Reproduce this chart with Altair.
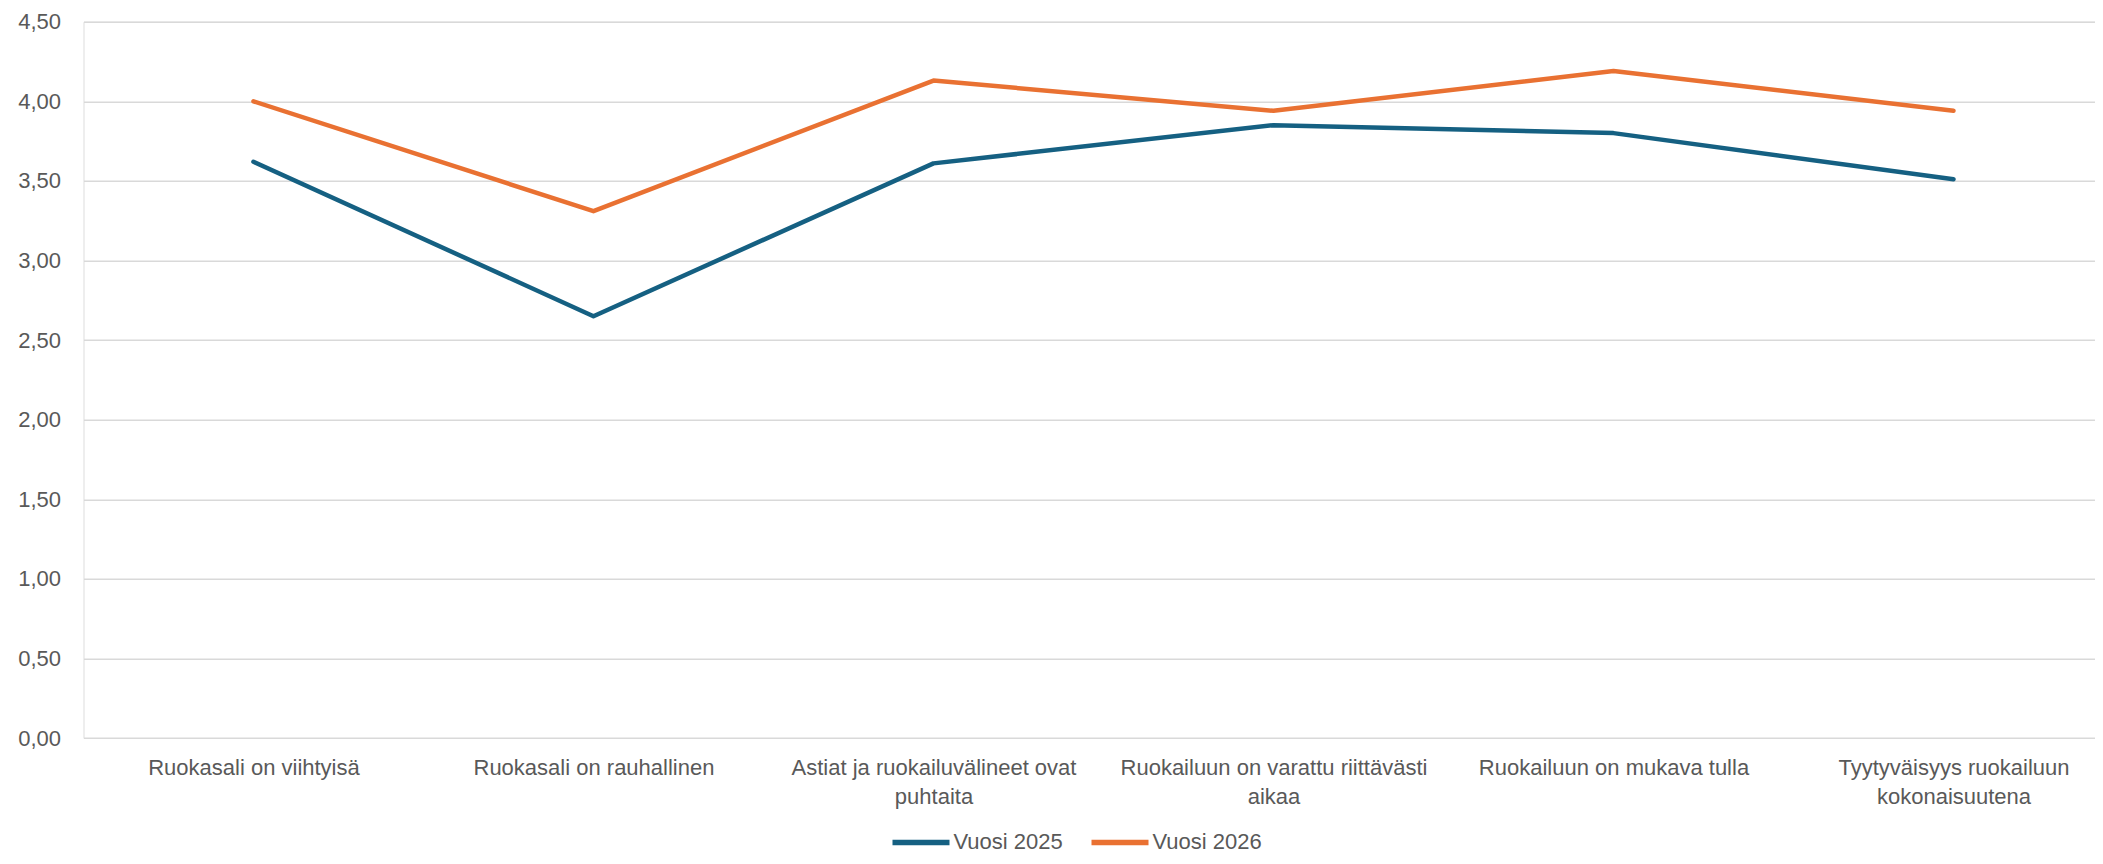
import json
import altair as alt
import pandas as pd

# ---- data ----
categories = [
    "Ruokasali on viihtyisä",
    "Ruokasali on rauhallinen",
    "Astiat ja ruokailuvälineet ovat puhtaita",
    "Ruokailuun on varattu riittävästi aikaa",
    "Ruokailuun on mukava tulla",
    "Tyytyväisyys ruokailuun kokonaisuutena",
]
category_label_lines = [
    ["Ruokasali on viihtyisä"],
    ["Ruokasali on rauhallinen"],
    ["Astiat ja ruokailuvälineet ovat", "puhtaita"],
    ["Ruokailuun on varattu riittävästi", "aikaa"],
    ["Ruokailuun on mukava tulla"],
    ["Tyytyväisyys ruokailuun", "kokonaisuutena"],
]
series_names = ["Vuosi 2025", "Vuosi 2026"]
values_2025 = [3.62, 2.65, 3.61, 3.85, 3.80, 3.51]
values_2026 = [4.00, 3.31, 4.13, 3.94, 4.19, 3.94]
series_colors = ["#156082", "#E97132"]
y_ticks = [0, 0.5, 1.0, 1.5, 2.0, 2.5, 3.0, 3.5, 4.0, 4.5]

rows = []
for name, vals in zip(series_names, [values_2025, values_2026]):
    for i, (c, v) in enumerate(zip(categories, vals)):
        rows.append({"kategoria": c, "sarja": name, "arvo": v, "ord": i})
df = pd.DataFrame(rows)

# label expression for multi-line category labels
expr = "datum.label"
for c, lines in zip(reversed(categories), reversed(category_label_lines)):
    expr = f"datum.value === {json.dumps(c)} ? {json.dumps(lines)} : ({expr})"

FONT = "Liberation Sans"
TEXT = "#595959"
FS = 22

chart = (
    alt.Chart(df)
    .mark_line(strokeWidth=4.5, strokeCap="round", strokeJoin="round")
    .encode(
        x=alt.X(
            "kategoria:N",
            sort=categories,
            scale=alt.Scale(type="point", domain=categories, padding=0.458, align=0.5457),
            axis=alt.Axis(
                title=None,
                grid=False,
                domain=False,
                ticks=False,
                labelAngle=0,
                labelAlign="center",
                labelBaseline="top",
                labelPadding=19,
                labelLineHeight=29,
                labelExpr=expr,
                labelFont=FONT,
                labelFontSize=FS,
                labelColor=TEXT,
                labelLimit=0,
            ),
        ),
        y=alt.Y(
            "arvo:Q",
            scale=alt.Scale(domain=[0, 4.5], nice=False, zero=True),
            axis=alt.Axis(
                title=None,
                values=y_ticks,
                domain=False,
                ticks=False,
                grid=True,
                gridColor="#D9D9D9",
                gridWidth=1.5,
                labelPadding=23,
                labelExpr="replace(format(datum.value, '.2f'), '.', ',')",
                labelFont=FONT,
                labelFontSize=FS,
                labelColor=TEXT,
            ),
        ),
        color=alt.Color(
            "sarja:N",
            scale=alt.Scale(domain=series_names, range=series_colors),
            legend=alt.Legend(
                title=None,
                orient="none",
                direction="horizontal",
                legendX=806,
                legendY=789,
                padding=0,
                symbolType="stroke",
                symbolSize=3249,
                symbolStrokeWidth=5.5,
                labelOffset=1,
                columnPadding=17,
                labelFont=FONT,
                labelFontSize=FS,
                labelColor=TEXT,
            ),
        ),
        order="ord:Q",
    )
    .properties(
        width=2011.5,
        height=716.3,
        autosize=alt.AutoSizeParams(type="none"),
        padding={"left": 75.5, "top": 13.7, "right": 0, "bottom": 118},
    )
    .configure_view(stroke=None)
    .configure(background="white")
)

chart.save("out.html", embed_options={"renderer": "svg", "actions": False})
